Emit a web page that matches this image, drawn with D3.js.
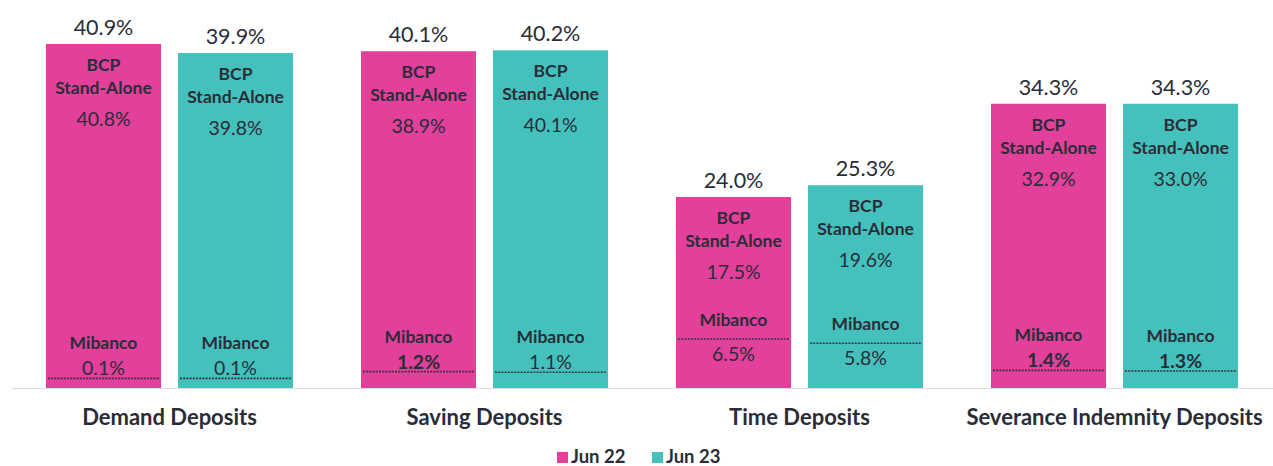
<!DOCTYPE html>
<html>
<head>
<meta charset="utf-8">
<script src="https://cdn.jsdelivr.net/npm/d3@7"></script>
<style>
  body { margin: 0; background: #fff; }
  text { font-family: Lato, "Open Sans", sans-serif; fill: #2a2d38; }
</style>
</head>
<body>
<script>
var svg_width  = 1273;
var svg_height = 466;

// data
var categories = ["Demand Deposits", "Saving Deposits", "Time Deposits", "Severance Indemnity Deposits"];
var periods    = ["Jun 22", "Jun 23"];
var totals     = [[40.9, 39.9], [40.1, 40.2], [24.0, 25.3], [34.3, 34.3]];
var bcpValues  = [[40.8, 39.8], [38.9, 40.1], [17.5, 19.6], [32.9, 33.0]];
var mibValues  = [[0.1, 0.1], [1.2, 1.1], [6.5, 5.8], [1.4, 1.3]];

var colors = { "Jun 22": "#e2409a", "Jun 23": "#45c1bd" };
// the slide shows a few of the Mibanco numbers in bold
var boldMib = { "Saving Deposits|Jun 22": 1, "Severance Indemnity Deposits|Jun 22": 1, "Severance Indemnity Deposits|Jun 23": 1 };

var svg = d3.select('body').append('svg')
            .attr('width', svg_width)
            .attr('height', svg_height);

var baseY = 388;

// the slide's bars start a little above zero
var y = d3.scaleLinear()
          .domain([2.9, 40.9])
          .range([baseY, 44]);

// the Mibanco divider is not to scale on the slide either
var divScale = d3.scaleLinear()
                 .domain([0, 6.5])
                 .range([9, 49]);

var x0 = d3.scaleBand()
           .domain(categories)
           .range([12, 1272]);

var half = 123.5;
var x1 = d3.scaleBand()
           .domain(periods)
           .range([x0.bandwidth() / 2 - half, x0.bandwidth() / 2 + half])
           .paddingInner(0.129);

// flatten into one row per bar
var bars = [];
categories.forEach(function (c, i) {
    periods.forEach(function (p, j) {
        bars.push({
            cat: c, period: p,
            total: totals[i][j],
            bcp: bcpValues[i][j],
            mib: mibValues[i][j]
        });
    });
});

// baseline
svg.append("line")
   .attr("x1", 12).attr("x2", svg_width)
   .attr("y1", baseY + 0.5).attr("y2", baseY + 0.5)
   .attr("stroke", "#dcdcdc")
   .attr("stroke-width", 1);

var bar = svg.append("g")
             .selectAll("g")
             .data(bars)
             .enter().append("g")
             .attr("transform", d => "translate(" + (x0(d.cat) + x1(d.period)) + ",0)");

var bw = x1.bandwidth();

bar.append("rect")
   .attr("x", 0)
   .attr("y", d => y(d.total))
   .attr("width", bw)
   .attr("height", d => baseY - y(d.total))
   .attr("fill", d => colors[d.period]);

// total labels
bar.append("text")
   .attr("x", bw / 2)
   .attr("y", d => y(d.total) - 9)
   .attr("text-anchor", "middle")
   .attr("font-size", 21.5)
   .text(d => d.total.toFixed(1) + "%");

// BCP block
bar.append("text")
   .attr("x", bw / 2)
   .attr("y", d => y(d.total) + 27)
   .attr("text-anchor", "middle")
   .attr("font-size", 17.5)
   .attr("font-weight", "bold")
   .text("BCP");

bar.append("text")
   .attr("x", bw / 2)
   .attr("y", d => y(d.total) + 50)
   .attr("text-anchor", "middle")
   .attr("font-size", 17.5)
   .attr("font-weight", "bold")
   .text("Stand-Alone");

bar.append("text")
   .attr("x", bw / 2)
   .attr("y", d => y(d.total) + 82)
   .attr("text-anchor", "middle")
   .attr("font-size", 19.5)
   .text(d => d.bcp.toFixed(1) + "%");

// Mibanco divider and labels
bar.append("line")
   .attr("x1", 2).attr("x2", bw - 2)
   .attr("y1", d => baseY - divScale(d.mib))
   .attr("y2", d => baseY - divScale(d.mib))
   .attr("stroke", "#3a3340")
   .attr("stroke-width", 1.6)
   .attr("stroke-dasharray", "2,1.2");

bar.append("text")
   .attr("x", bw / 2)
   .attr("y", function (d) {
       var dy = baseY - divScale(d.mib);
       return divScale(d.mib) > 30 ? dy - 13 : dy - 29;
   })
   .attr("text-anchor", "middle")
   .attr("font-size", 17.5)
   .attr("font-weight", "bold")
   .text("Mibanco");

bar.append("text")
   .attr("x", bw / 2)
   .attr("y", function (d) {
       var dy = baseY - divScale(d.mib);
       return divScale(d.mib) > 30 ? dy + 22 : dy - 3;
   })
   .attr("text-anchor", "middle")
   .attr("font-size", 19.5)
   .attr("font-weight", d => boldMib[d.cat + "|" + d.period] ? "bold" : "normal")
   .text(d => d.mib.toFixed(1) + "%");

// category labels
svg.append("g")
   .selectAll("text")
   .data(categories)
   .enter().append("text")
   .attr("x", d => x0(d) + x0.bandwidth() / 2)
   .attr("y", 425)
   .attr("text-anchor", "middle")
   .attr("font-size", 22)
   .attr("font-weight", "bold")
   .text(d => d);

// legend
var legend = svg.append("g")
                .selectAll("g")
                .data(periods)
                .enter().append("g")
                .attr("transform", (d, i) => "translate(" + (557 + i * 95) + ",0)");

legend.append("rect")
      .attr("x", 0).attr("y", 452)
      .attr("width", 11).attr("height", 11)
      .attr("fill", d => colors[d]);

legend.append("text")
      .attr("x", 14)
      .attr("y", 463)
      .attr("font-size", 18.5)
      .attr("font-weight", "bold")
      .text(d => d);
</script>
</body>
</html>
